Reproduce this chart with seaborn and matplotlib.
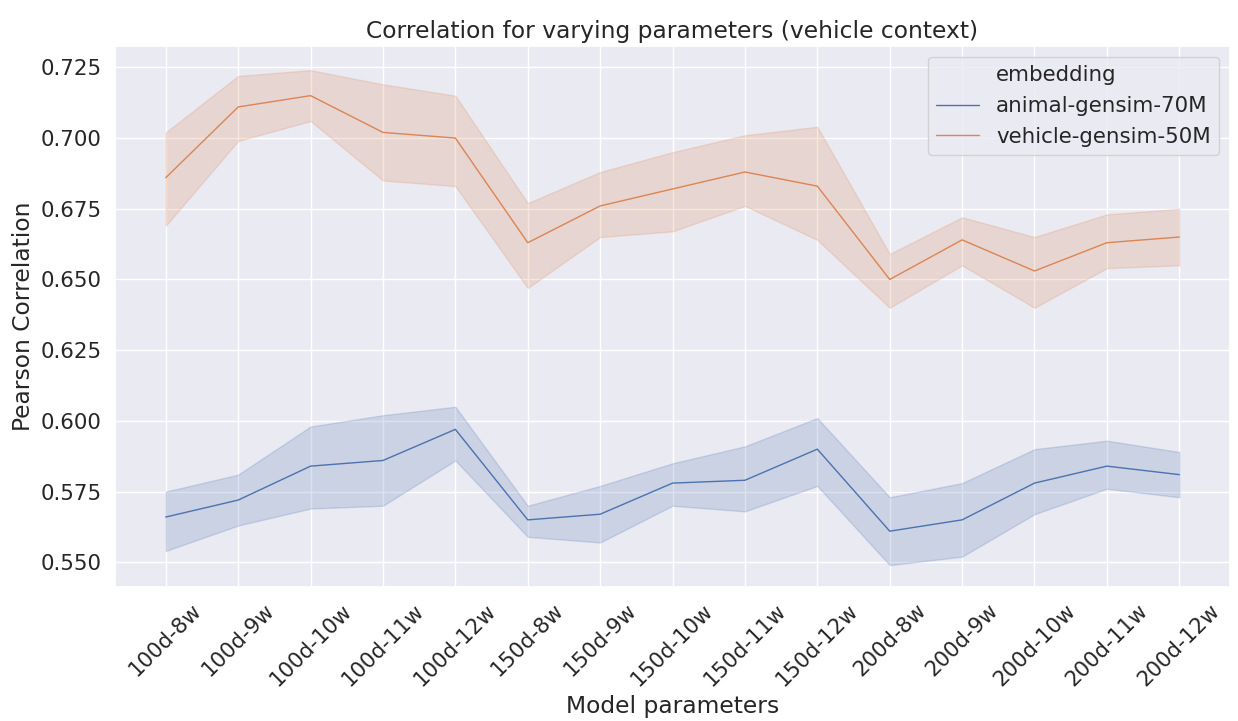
# Correlacion de Pearson segun parametros del modelo (contexto vehiculos)

import pandas as pd
import numpy as np
import matplotlib
matplotlib.use('Agg')
import matplotlib.pyplot as plt
from matplotlib.lines import Line2D
import seaborn as sns

# Datos
params = ['100d-8w', '100d-9w', '100d-10w', '100d-11w', '100d-12w',
          '150d-8w', '150d-9w', '150d-10w', '150d-11w', '150d-12w',
          '200d-8w', '200d-9w', '200d-10w', '200d-11w', '200d-12w']

animal_mean = [0.566, 0.572, 0.584, 0.586, 0.597, 0.565, 0.567, 0.578, 0.579, 0.590, 0.561, 0.565, 0.578, 0.584, 0.581]
animal_high = [0.575, 0.581, 0.598, 0.602, 0.605, 0.570, 0.577, 0.585, 0.591, 0.601, 0.573, 0.578, 0.590, 0.593, 0.589]
animal_low = [0.554, 0.563, 0.569, 0.570, 0.586, 0.559, 0.557, 0.570, 0.568, 0.577, 0.549, 0.552, 0.567, 0.576, 0.573]

vehicle_mean = [0.686, 0.711, 0.715, 0.702, 0.700, 0.663, 0.676, 0.682, 0.688, 0.683, 0.650, 0.664, 0.653, 0.663, 0.665]
vehicle_high = [0.702, 0.722, 0.724, 0.719, 0.715, 0.677, 0.688, 0.695, 0.701, 0.704, 0.659, 0.672, 0.665, 0.673, 0.675]
vehicle_low = [0.669, 0.699, 0.706, 0.685, 0.683, 0.647, 0.665, 0.667, 0.676, 0.664, 0.640, 0.655, 0.640, 0.654, 0.655]

# Tabla larga: tres filas por punto (bajo, centro, alto)
rows = []
for name, lo, mid, hi in [('animal-gensim-70M', animal_low, animal_mean, animal_high),
                          ('vehicle-gensim-50M', vehicle_low, vehicle_mean, vehicle_high)]:
    for p, a, b, c in zip(params, lo, mid, hi):
        for v in (a, b, c):
            rows.append({'params': p, 'corr': v, 'embedding': name})
df = pd.DataFrame(rows)

sns.set_theme(style='darkgrid', font_scale=1.4)

fig, ax = plt.subplots(figsize=(12.38, 7.21), dpi=100)
# mediana = valor central, intervalo 100% = banda min..max
sns.lineplot(data=df, x='params', y='corr', hue='embedding',
             estimator='median', errorbar=('pi', 100), linewidth=1, ax=ax)

ax.set_title('Correlation for varying parameters (vehicle context)')
ax.set_xlabel('Model parameters')
ax.set_ylabel('Pearson Correlation')
ax.set_ylim(0.5413, 0.7325)
ax.set_xlim(-0.7, 14.7)
plt.setp(ax.get_xticklabels(), rotation=45)

# leyenda al estilo antiguo de seaborn: el titulo como una entrada mas
handles, labels = ax.get_legend_handles_labels()
titulo = Line2D([], [], alpha=0)
ax.legend([titulo] + handles, ['embedding'] + labels, loc='upper right')

plt.subplots_adjust(left=0.093, right=0.9935, top=0.936, bottom=0.186)
plt.savefig('out.png')
